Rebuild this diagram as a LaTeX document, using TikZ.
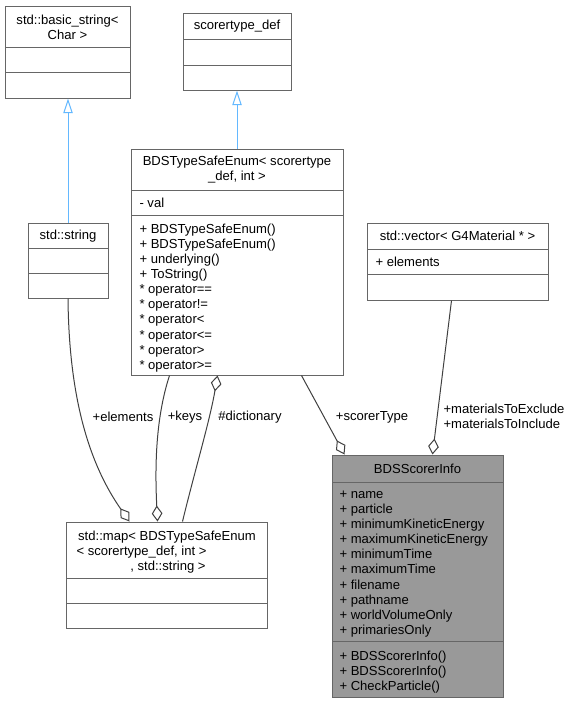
\documentclass[tikz,border=0pt]{standalone}
\usepackage{fontspec}
\setmainfont{Liberation Sans}
\usetikzlibrary{arrows.meta,calc}

\definecolor{boxline}{RGB}{102,102,102}
\definecolor{edgeline}{RGB}{64,64,64}
\definecolor{inheritline}{RGB}{99,184,255}
\definecolor{infofill}{RGB}{153,153,153}

\tikzset{every picture/.style={line width=0.75pt}}
\tikzset{
  classbox/.style 2 args={draw=boxline, inner sep=0pt, minimum width=#1*0.75pt, minimum height=#2*0.75pt},
  classtitle/.style={anchor=center, inner sep=0pt, align=center, font=\fontsize{9.8}{11.3}\selectfont},
  memberlist/.style={anchor=west, inner sep=0pt, align=left, font=\fontsize{9.8}{11.3}\selectfont},
  edgelabel/.style={anchor=center, inner sep=0pt, align=left, font=\fontsize{9.8}{11.3}\selectfont},
  inheritedge/.style={draw=inheritline, -{Triangle[open,length=11pt,width=7pt]}},
  partedge/.style={draw=edgeline, -{Diamond[open,length=12pt,width=8pt]}},
}

\begin{document}
\begin{tikzpicture}[x=0.75pt,y=0.75pt,yscale=-1,xscale=1]
\useasboundingbox (0,0) rectangle (570,703);

%Shape: Rectangle std::basic_string
\node [classbox={125}{92}] (bstr) at (67.5,52) {};
\draw [boxline] (5,47) -- (130,47) ;
\draw [boxline] (5,72) -- (130,72) ;
%Shape: Rectangle scorertype_def
\node [classbox={108}{77}] (sdef) at (237,51.5) {};
\draw [boxline] (183,39) -- (291,39) ;
\draw [boxline] (183,65) -- (291,65) ;
%Shape: Rectangle BDSTypeSafeEnum
\node [classbox={212}{226}] (enum) at (237,262) {};
\draw [boxline] (131,190) -- (343,190) ;
\draw [boxline] (131,215) -- (343,215) ;
%Shape: Rectangle std::string
\node [classbox={80}{75}] (str) at (68,260.5) {};
\draw [boxline] (28,248) -- (108,248) ;
\draw [boxline] (28,273) -- (108,273) ;
%Shape: Rectangle std::vector
\node [classbox={181}{77}] (vec) at (457.5,261.5) {};
\draw [boxline] (367,249) -- (548,249) ;
\draw [boxline] (367,274) -- (548,274) ;
%Shape: Rectangle std::map
\node [classbox={201}{106}] (map) at (166.5,575) {};
\draw [boxline] (66,578) -- (267,578) ;
\draw [boxline] (66,603) -- (267,603) ;
%Shape: Rectangle BDSScorerInfo
\node [classbox={171}{242}, fill=infofill] (info) at (417.5,576) {};
\draw [boxline] (332,482) -- (503,482) ;
\draw [boxline] (332,641) -- (503,641) ;

% Text Node
\node [classtitle] (bstrtitle) at (67.5,27) {std::basic\_string<\\Char >};
% Text Node
\node [classtitle] (sdeftitle) at (237,26.5) {scorertype\_def};
% Text Node
\node [classtitle] (enumtitle) at (237,169.5) {BDSTypeSafeEnum< scorertype\\\_def, int >};
% Text Node
\node [memberlist] (enumattr) at (139,202.5) {- val};
% Text Node
\node [memberlist] (enumops) at (139,298) {+ BDSTypeSafeEnum()\\+ BDSTypeSafeEnum()\\+ underlying()\\+ ToString()\\* operator==\\* operator!=\\* operator<\\* operator<=\\* operator>\\* operator>=};
% Text Node
\node [classtitle] (strtitle) at (68,236) {std::string};
% Text Node
\node [classtitle] (vectitle) at (457.5,236) {std::vector< G4Material * >};
% Text Node
\node [memberlist] (vecattr) at (375,262) {+ elements};
% Text Node
\node [classtitle] (maptitlea) at (167,537) {std::map< BDSTypeSafeEnum};
\node [memberlist] (maptitleb) at (76,552) {< scorertype\_def, int >};
\node [classtitle] (maptitlec) at (168,567) {, std::string >};
% Text Node
\node [classtitle] (infotitle) at (417.5,468.5) {BDSScorerInfo};
% Text Node
\node [memberlist] (infoattr) at (339,564) {+ name\\+ particle\\+ minimumKineticEnergy\\+ maximumKineticEnergy\\+ minimumTime\\+ maximumTime\\+ filename\\+ pathname\\+ worldVolumeOnly\\+ primariesOnly};
% Text Node
\node [memberlist] (infoops) at (339,672) {+ BDSScorerInfo()\\+ BDSScorerInfo()\\+ CheckParticle()};

%Straight Lines inheritance
\draw [inheritedge] (str.north) -- (str.north |- bstr.south) ;
\draw [inheritedge] (enum.north) -- (enum.north |- sdef.south) ;

%Curve Lines
\draw [partedge] (str.south) .. controls (69,400) and (90,465) .. ($(map.north west)+(64,0)$) ;
\draw [partedge] ($(enum.south west)+(39,0)$) .. controls (155,420) and (155,470) .. ($(map.north west)+(92,0)$) ;
\draw [partedge] ($(map.north west)+(117,0)$) .. controls (195,470) and (210,420) .. ($(enum.south west)+(87,0)$) ;
%Straight Lines
\draw [partedge] ($(enum.south west)+(171,0)$) -- ($(info.north west)+(13,0)$) ;
\draw [partedge] ($(vec.south west)+(85,0)$) -- ($(info.north west)+(101,0)$) ;

% Text Node
\node [edgelabel] (elemlabel) at (123,417) {+elements};
\node [edgelabel] (keyslabel) at (185,417) {+keys};
\node [edgelabel] (dictlabel) at (250,417) {\#dictionary};
\node [edgelabel] (typelabel) at (372,417) {+scorerType};
\node [edgelabel, anchor=west] (matlabel) at (443,416) {+materialsToExclude\\+materialsToInclude};

\end{tikzpicture}
\end{document}
